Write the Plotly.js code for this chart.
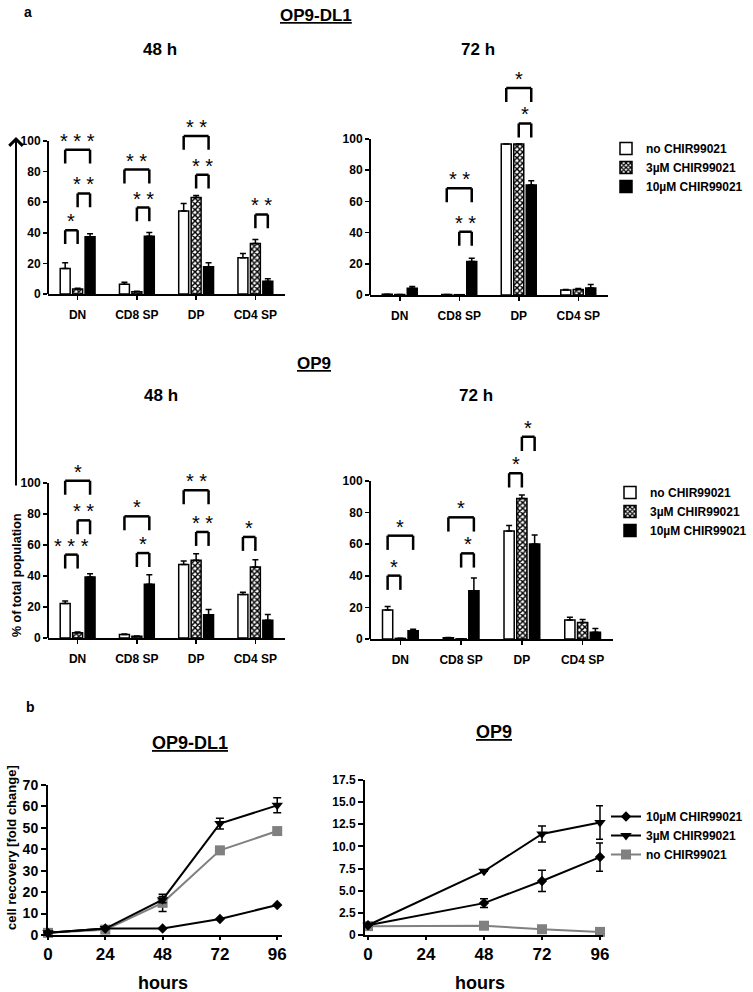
<!DOCTYPE html>
<html>
<head>
<meta charset="utf-8">
<script src="https://cdn.plot.ly/plotly-3.0.1.min.js"></script>
<style>
  body { margin: 0; background: #fff; }
  #plot { width: 753px; height: 992px; }
</style>
</head>
<body>
<div id="plot"></div>
<script>
// categories and treatment groups
var cellTypes = ["DN", "CD8 SP", "DP", "CD4 SP"];
var groups = ["no CHIR99021", "3µM CHIR99021", "10µM CHIR99021"];

// % of total population (mean) and error, order: no, 3µM, 10µM
// OP9-DL1, 48 h
var dl1_48_no = [16.7, 6.3, 54.3, 23.7];
var dl1_48_3 = [3.3, 1.5, 63, 33];
var dl1_48_10 = [37.4, 37.8, 17.8, 8.3];
var dl1_48_no_err = [3.7, 1.3, 4.8, 2.8];
var dl1_48_3_err = [0.5, 0.3, 1.3, 2.6];
var dl1_48_10_err = [2, 2.4, 2.6, 1.7];
// OP9-DL1, 72 h
var dl1_72_no = [0.5, 0.3, 96.8, 3.2];
var dl1_72_3 = [0.3, 0.2, 96.8, 3.6];
var dl1_72_10 = [4.3, 21.5, 70.5, 4.5];
var dl1_72_no_err = [0, 0, 0, 0.3];
var dl1_72_3_err = [0, 0, 0, 0.5];
var dl1_72_10_err = [1.2, 2, 2.8, 2.2];
// OP9, 48 h
var op9_48_no = [22.2, 2.2, 47.5, 28];
var op9_48_3 = [3.4, 1.1, 50.1, 45.8];
var op9_48_10 = [39.4, 34.6, 15, 11.4];
var op9_48_no_err = [1.7, 0.4, 2.1, 1.5];
var op9_48_3_err = [0.5, 0.2, 4.3, 4.7];
var op9_48_10_err = [2, 6.2, 3.4, 3.7];
// OP9, 72 h
var op9_72_no = [18.4, 0.8, 68.4, 12];
var op9_72_3 = [0.4, 0.1, 89, 10.5];
var op9_72_10 = [5.3, 30.6, 60.1, 4.2];
var op9_72_no_err = [2.1, 0.2, 3.4, 1.7];
var op9_72_3_err = [0, 0, 2.1, 1.9];
var op9_72_10_err = [0.8, 8, 5.7, 2.5];

// significance: [cell type index, bar from, bar to, bracket height, stars]
var sig_dl1_48 = [[0, 0, 1, 41.7, "*"], [0, 1, 2, 65.7, "**"], [0, 0, 2, 94.3, "***"],
  [1, 0, 2, 81.3, "**"], [1, 1, 2, 56.5, "**"], [2, 0, 2, 103.3, "**"], [2, 1, 2, 78, "**"],
  [3, 1, 2, 52, "**"]];
var sig_dl1_72 = [[1, 0, 2, 68.4, "**"], [1, 1, 2, 40.6, "**"], [2, 0, 2, 132.7, "*"], [2, 1, 2, 110, "*"]];
var sig_op9_48 = [[0, 0, 1, 53.8, "***"], [0, 1, 2, 75.9, "**"], [0, 0, 2, 101.5, "*"],
  [1, 0, 2, 78.5, "*"], [1, 1, 2, 54.8, "*"], [2, 0, 2, 95.3, "**"], [2, 1, 2, 68.4, "**"],
  [3, 0, 1, 65.2, "*"]];
var sig_op9_72 = [[0, 0, 2, 65.4, "*"], [0, 0, 1, 40.1, "*"], [1, 0, 2, 77, "*"], [1, 1, 2, 54.2, "*"],
  [2, 0, 1, 104.9, "*"], [2, 1, 2, 128, "*"]];

// cell recovery (fold change)
var hoursDL1 = [0, 24, 48, 72, 96];
var dl1_rec_10 = [1, 3, 3, 7.5, 14];
var dl1_rec_3 = [1, 3, 16.5, 52, 60.5];
var dl1_rec_no = [1, 2.5, 15, 39.5, 48.5];
var dl1_rec_3_err = [0, 0, 1.5, 2.5, 3.5];
var dl1_rec_no_err = [0, 0, 4, 0, 0];
var hoursOP9 = [0, 48, 72, 96];
var op9_rec_10 = [1.1, 3.6, 6.1, 8.8];
var op9_rec_3 = [1.1, 7.2, 11.4, 12.7];
var op9_rec_no = [1, 1.05, 0.65, 0.35];
var op9_rec_10_err = [0, 0.5, 1.2, 1.6];
var op9_rec_3_err = [0, 0, 0.9, 1.9];

var W = 753, H = 992;
var FONT = "Liberation Sans, Arial, Helvetica, sans-serif";
function fx(p) { return p / W; }
function fy(p) { return 1 - p / H; }
function yDomain(zeroPx, hundredPx, top) {
  var k = (zeroPx - hundredPx) / 100;
  return [fy(zeroPx), fy(zeroPx - top * k)];
}

var BAR_SLOT = 0.21;   // offset of a bar from its group centre, in category units
var zeros = [0, 0, 0, 0];

function barMarker(i) {
  if (i === 0) return { color: "white", line: { color: "black", width: 1.5 } };
  if (i === 1) return {
    color: "white", line: { color: "black", width: 1.5 },
    pattern: { shape: "x", fgcolor: "black", bgcolor: "white", size: 4, solidity: 0.6 }
  };
  return { color: "black", line: { color: "black", width: 1.5 } };
}

var traces = [];
var shapes = [];
var annotations = [];

function addPanel(n, series, errs, sig, legendId) {
  var xa = "x" + (n > 1 ? n : ""), ya = "y" + (n > 1 ? n : "");
  series.forEach(function (vals, i) {
    traces.push({
      type: "bar", x: cellTypes, y: vals, name: groups[i],
      xaxis: xa, yaxis: ya, marker: barMarker(i),
      error_y: { type: "data", array: errs[i], arrayminus: zeros, symmetric: false,
        color: "black", thickness: 1.5, width: 3 },
      showlegend: !!legendId, legend: legendId || "legend"
    });
  });
  // y axis line only from 0 to 100
  shapes.push({ type: "line", xref: xa + " domain", yref: ya, x0: 0, x1: 0, y0: 0, y1: 100,
    line: { color: "black", width: 2 } });
  sig.forEach(function (s) {
    var xl = s[0] + (s[1] - 1) * BAR_SLOT, xr = s[0] + (s[2] - 1) * BAR_SLOT, top = s[3], leg = 9;
    var ln = { color: "black", width: 2.5 };
    shapes.push({ type: "line", xref: xa, yref: ya, x0: xl, x1: xl, y0: top - leg, y1: top, line: ln });
    shapes.push({ type: "line", xref: xa, yref: ya, x0: xl, x1: xr, y0: top, y1: top, line: ln });
    shapes.push({ type: "line", xref: xa, yref: ya, x0: xr, x1: xr, y0: top - leg, y1: top, line: ln });
    annotations.push({ xref: xa, yref: ya, x: (xl + xr) / 2, y: top, text: s[4].split("").join(" "),
      showarrow: false, yanchor: "bottom", yshift: -4,
      font: { size: 20, weight: "normal", color: "black" } });
  });
}

addPanel(1, [dl1_48_no, dl1_48_3, dl1_48_10], [dl1_48_no_err, dl1_48_3_err, dl1_48_10_err], sig_dl1_48);
addPanel(2, [dl1_72_no, dl1_72_3, dl1_72_10], [dl1_72_no_err, dl1_72_3_err, dl1_72_10_err], sig_dl1_72, "legend");
addPanel(3, [op9_48_no, op9_48_3, op9_48_10], [op9_48_no_err, op9_48_3_err, op9_48_10_err], sig_op9_48);
addPanel(4, [op9_72_no, op9_72_3, op9_72_10], [op9_72_no_err, op9_72_3_err, op9_72_10_err], sig_op9_72, "legend2");

// growth curves
function lineTrace(n, x, y, err, name, color, symbol, size, rank, legendId) {
  var t = {
    type: "scatter", mode: "lines+markers", x: x, y: y, name: name,
    xaxis: "x" + n, yaxis: "y" + n, cliponaxis: false,
    line: { color: color, width: 2 },
    marker: { color: color, symbol: symbol, size: size },
    legendrank: rank, showlegend: !!legendId, legend: legendId || "legend3"
  };
  if (err) t.error_y = { type: "data", array: err, color: "black", thickness: 1.5, width: 4 };
  return t;
}
traces.push(lineTrace(5, hoursDL1, dl1_rec_no, dl1_rec_no_err, "no CHIR99021", "#808080", "square", 10, 3));
traces.push(lineTrace(5, hoursDL1, dl1_rec_10, null, "10µM CHIR99021", "black", "diamond", 8, 1));
traces.push(lineTrace(5, hoursDL1, dl1_rec_3, dl1_rec_3_err, "3µM CHIR99021", "black", "triangle-down", 10, 2));
traces.push(lineTrace(6, hoursOP9, op9_rec_no, null, "no CHIR99021", "#808080", "square", 10, 3, "legend3"));
traces.push(lineTrace(6, hoursOP9, op9_rec_10, op9_rec_10_err, "10µM CHIR99021", "black", "diamond", 8, 1, "legend3"));
traces.push(lineTrace(6, hoursOP9, op9_rec_3, op9_rec_3_err, "3µM CHIR99021", "black", "triangle-down", 10, 2, "legend3"));

function barX(x0, x1, anchor) {
  return { domain: [fx(x0), fx(x1)], anchor: anchor, type: "category", range: [-0.5, 3.5],
    showline: true, linewidth: 2, linecolor: "black", ticks: "outside", ticklen: 4, tickwidth: 1.5,
    tickcolor: "black", ticklabelstandoff: 5, tickfont: { size: 12, weight: "bold" },
    showgrid: false, zeroline: false, fixedrange: true };
}
function barY(dom, top, anchor) {
  return { domain: dom, anchor: anchor, range: [0, top], tickvals: [0, 20, 40, 60, 80, 100],
    showline: false, ticks: "outside", ticklen: 4, tickwidth: 1.5, tickcolor: "black",
    tickfont: { size: 12, weight: "bold" }, showgrid: false, zeroline: false, fixedrange: true };
}
function lineAxis(dom, range, anchor, extra) {
  var a = { domain: dom, anchor: anchor, range: range, showline: true, linewidth: 2, linecolor: "black",
    ticks: "outside", ticklen: 5, tickwidth: 2, tickcolor: "black",
    showgrid: false, zeroline: false, fixedrange: true };
  for (var k in extra) a[k] = extra[k];
  return a;
}

function label(text, x, y, size, extra) {
  var a = { xref: "paper", yref: "paper", x: fx(x), y: fy(y), text: text, showarrow: false,
    xanchor: "center", yanchor: "middle", font: { size: size, weight: "bold", color: "black" } };
  for (var k in extra) a[k] = extra[k];
  annotations.push(a);
}
label("a", 28, 12, 14);
label("<u>OP9-DL1</u>", 316, 16, 17);
label("48 h", 160, 49, 17);
label("72 h", 478, 49, 17);
label("<u>OP9</u>", 314, 363, 17);
label("48 h", 161, 395, 17);
label("72 h", 476, 395, 17);
label("% of total population", 17, 575, 12.5, { textangle: -90 });
label("b", 30, 707, 14);
label("<u>OP9-DL1</u>", 190, 743, 18);
label("<u>OP9</u>", 494, 732, 18);
label("cell recovery [fold change]", 11, 848, 13, { textangle: -90 });
label("hours", 163, 983, 18);
label("hours", 480, 983, 18);
// long arrow of the shared y axis title
annotations.push({ xref: "paper", yref: "paper", x: fx(16), y: fy(137), text: "",
  showarrow: true, ax: 0, ay: 350, arrowhead: 4, arrowsize: 1.3, arrowwidth: 2, arrowcolor: "black" });

var legendFont = { size: 12, weight: "bold", color: "black" };
var layout = {
  width: W, height: H, autosize: false,
  margin: { l: 0, r: 0, t: 0, b: 0 },
  paper_bgcolor: "white", plot_bgcolor: "white",
  font: { family: FONT, color: "black" },
  barmode: "group", bargap: 0.37, bargroupgap: 0.2,
  showlegend: true,
  legend: { x: fx(606), y: fy(134), xanchor: "left", yanchor: "top", font: legendFont, bgcolor: "rgba(0,0,0,0)" },
  legend2: { x: fx(610), y: fy(478), xanchor: "left", yanchor: "top", font: legendFont, bgcolor: "rgba(0,0,0,0)" },
  legend3: { x: fx(606), y: fy(802), xanchor: "left", yanchor: "top", font: legendFont, bgcolor: "rgba(0,0,0,0)",
    traceorder: "normal" },
  xaxis: barX(48, 285, "y"), yaxis: barY(yDomain(294, 141, 118), 118, "x"),
  xaxis2: barX(370, 608, "y2"), yaxis2: barY(yDomain(295, 139, 146), 146, "x2"),
  xaxis3: barX(48, 285, "y3"), yaxis3: barY(yDomain(638, 483, 116), 116, "x3"),
  xaxis4: barX(370, 613, "y4"), yaxis4: barY(yDomain(639, 481, 140), 140, "x4"),
  xaxis5: lineAxis([fx(48), fx(282)], [0, 98], "y5",
    { tickvals: [0, 24, 48, 72, 96], ticklen: 3, tickfont: { size: 17, weight: "bold" } }),
  yaxis5: lineAxis([fy(935), fy(785)], [0, 70], "x5",
    { dtick: 10, tickfont: { size: 14, weight: "bold" } }),
  xaxis6: lineAxis([fx(365), fx(603)], [-1.24, 97.24], "y6",
    { tickvals: [0, 24, 48, 72, 96], ticklen: 3, tickfont: { size: 17, weight: "bold" } }),
  yaxis6: lineAxis([fy(935), fy(780)], [0, 17.5], "x6",
    { tickvals: [0, 2.5, 5, 7.5, 10, 12.5, 15, 17.5],
      ticktext: ["0", "2.5", "5.0", "7.5", "10.0", "12.5", "15.0", "17.5"],
      tickfont: { size: 12, weight: "bold" } }),
  shapes: shapes,
  annotations: annotations
};

Plotly.newPlot("plot", traces, layout, { staticPlot: true, displayModeBar: false });
</script>
</body>
</html>
